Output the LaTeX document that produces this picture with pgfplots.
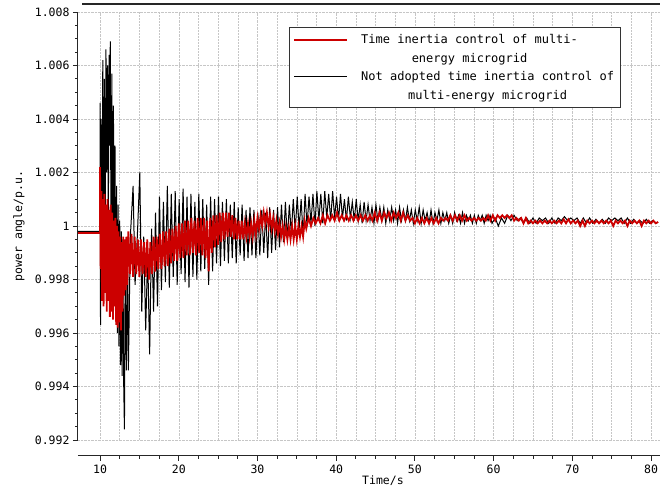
\documentclass[border=0pt]{standalone}
\usepackage{fontspec}
\setmainfont{DejaVu Sans Mono}
\usepackage{pgfplots}
\pgfplotsset{compat=1.18}
\definecolor{myred}{RGB}{204,0,0}
\begin{document}
\begin{tikzpicture}
\begin{axis}[
 scale only axis, width=582pt, height=428pt,
 xmin=7.2, xmax=81.14, ymin=0.992, ymax=1.008,
 axis y line*=left, axis x line*=bottom, axis x line shift=16pt,
 axis line style={-, line width=1pt, black!85},
 xtick={10,20,...,80}, minor x tick num=3,
 ytick={0.992,0.994,0.996,0.998,1,1.002,1.004,1.006,1.008}, minor y tick num=3,
 scaled y ticks=false,
 yticklabel style={/pgf/number format/.cd, fixed, precision=3},
 /pgf/number format/assume math mode=true,
 tick align=outside, major tick length=5pt, minor tick length=3pt,
 tick style={black!85, line width=0.8pt},
 tick label style={font=\fontsize{11.5}{13}\selectfont},
 xmajorgrids, xminorgrids, ymajorgrids,
 grid style={densely dotted, gray!45, line width=0.5pt},
 minor grid style={densely dotted, gray!45, line width=0.5pt},
 xlabel={Time/s}, ylabel={power angle/p.u.},
 label style={font=\fontsize{11.5}{13}\selectfont},
 xlabel style={at={(axis description cs:0.524,-0.096)}, anchor=center},
 ylabel style={at={(axis description cs:-0.1014,0.5)}, anchor=center},
 legend style={at={(0.3625,0.965)}, anchor=north west, draw=black!80, line width=0.8pt, fill=white,
   font=\fontsize{12}{19}\selectfont, cells={align=center}, inner xsep=4pt, inner ysep=5pt, row sep=3pt,
   /tikz/every odd column/.append style={column sep=11pt}},
 legend cell align=left,
 legend image code/.code={\draw[#1] (0pt,9.5pt) -- (53pt,9.5pt);},
]
\coordinate (SW) at (rel axis cs:0,0);
\coordinate (NE) at (rel axis cs:1,1);
\coordinate (NW) at (rel axis cs:0,1);
% red: flat start, drawn under the black line
\addplot[myred, line width=1.8pt, forget plot] coordinates {(7.2,0.99975)(10,0.99975)};
% black: without time inertia control
\addplot[black, line width=1pt, forget plot] coordinates {
(7.2,0.9998)(10,0.9998)(10.02,1.0046)(10.06,0.9963)(10.15,1.0040)(10.25,0.9985)(10.35,1.0062)(10.45,1.0010)(10.55,1.0055)(10.65,0.9992)(10.75,1.0066)(10.85,1.0020)(10.95,1.0060)(11.05,1.0000)(11.15,1.0064)(11.25,1.0030)(11.3,1.0069)(11.4,0.9990)(11.5,1.0057)(11.6,0.9985)(11.7,1.0045)(11.8,0.9978)(11.9,1.0030)(12,0.9968)(12.1,1.0015)(12.2,0.9960)(12.3,1.0008)(12.4,0.9955)(12.5,1.0002)(12.6,0.9948)(12.7,0.9998)(12.8,0.9944)(12.9,0.9995)(13,0.9942)(13.1,0.9924)(13.2,0.9990)(13.35,0.9946)(13.5,0.9992)(13.6,0.9946)(13.85,0.9996)(14.2,1.0015)(14.45,0.9978)(14.75,0.9997)(15.05,1.0020)(15.3,0.9968)(15.55,0.9996)(15.8,0.9961)(16.05,0.9990)(16.3,0.9952)(16.55,0.9999)(16.8,0.9968)(17.05,1.0005)(17.3,0.9970)(17.55,1.0011)(17.8,0.9976)(18.05,1.0009)(18.3,0.9979)(18.55,1.0015)(18.8,0.9977)(19.05,1.0012)(19.3,0.9981)(19.55,1.0013)(19.8,0.9978)(20.05,1.0010)(20.3,0.9982)(20.55,1.0014)(20.8,0.9979)(21.05,1.0011)(21.3,0.9977)(21.55,1.0012)(21.8,0.9981)(22.05,1.0009)(22.3,0.9980)(22.55,1.0012)(22.8,0.9983)(23.05,1.0010)(23.3,0.9984)(23.55,1.0008)(23.8,0.9978)(24.05,1.0011)(24.3,0.9983)(24.55,1.0010)(24.8,0.9986)(25.05,1.0011)(25.3,0.9985)(25.55,1.0009)(25.8,0.9987)(26.05,1.0010)(26.3,0.9986)(26.55,1.0008)(26.8,0.9988)(27.05,1.0009)(27.3,0.9986)(27.55,1.0007)(27.8,0.9989)(28.05,1.0008)(28.3,0.9987)(28.55,1.0006)(28.8,0.9988)(29.05,1.0007)(29.3,0.9989)(29.55,1.0006)(29.8,0.9988)(30.05,1.0005)(30.3,0.9989)(30.55,1.0006)(30.8,0.9990)(31.05,1.0005)(31.3,0.9988)(31.55,1.0007)(31.8,0.9990)(32.05,1.0006)(32.3,0.9991)(32.55,1.0007)(32.8,0.9992)(33.05,1.0008)(33.3,0.9994)(33.55,1.0009)(33.8,0.9995)(34.05,1.0008)(34.3,0.9997)(34.55,1.0010)(34.8,0.9998)(35.05,1.0011)(35.3,0.9999)(35.55,1.0010)(35.8,0.9996)(36.05,1.0012)(36.3,1.0000)(36.55,1.0011)(36.8,1.0001)(37.05,1.0012)(37.3,1.0000)(37.55,1.0013)(37.8,1.0002)(38.05,1.0012)(38.3,1.0001)(38.55,1.0013)(38.8,1.0003)(39.05,1.0012)(39.3,1.0002)(39.55,1.0013)(39.8,1.0003)(40.05,1.0011)(40.3,1.0002)(40.55,1.0012)(40.8,1.0003)(41.05,1.0010)(41.3,1.0002)(41.55,1.0011)(41.8,1.0003)(42.05,1.0009)(42.3,1.0002)(42.55,1.0010)(42.8,1.0002)(43.05,1.0008)(43.3,1.0001)(43.55,1.0009)(43.8,1.0002)(44.05,1.0008)(44.3,1.0002)(44.55,1.0007)(44.8,1.0001)(45.05,1.0008)(45.3,1.0002)(45.55,1.0007)(45.8,1.0002)(46.05,1.0007)(46.3,1.0001)(46.55,1.0006)(46.8,1.0002)(47.05,1.0007)(47.3,1.0002)(47.55,1.0006)(47.8,1.0001)(48.05,1.0007)(48.3,1.0002)(48.55,1.0006)(48.8,1.0002)(49.05,1.0007)(49.3,1.0002)(49.55,1.0006)(49.8,1.0001)(50.05,1.0006)(50.3,1.0002)(50.55,1.0007)(50.8,1.0001)(51.05,1.0006)(51.3,1.0002)(51.55,1.0005)(51.8,1.0001)(52.05,1.0006)(52.3,1.0001)(52.55,1.0005)(52.8,1.0002)(53.05,1.0006)(53.3,1.0001)(53.55,1.0005)(53.8,1.0002)(54.05,1.0005)(54.3,1.0001)(54.55,1.0004)(54.8,1.0001)(55.05,1.0005)(55.3,1.0002)(55.55,1.0004)(55.8,1.0001)(56.05,1.0005)(56.3,1.0001)(56.55,1.0004)(56.8,1.0002)(57.05,1.0004)(57.3,1.0001)(57.55,1.0004)(57.8,1.0001)(58.05,1.0004)(58.3,1.0002)(58.55,1.0004)(58.8,1.0001)(59.05,1.0004)(59.3,1.0002)(59.55,1.0004)(59.8,1.0001)(60.2,1.0003)(60.6,1.0000)(61,1.0003)(61.4,1.0001)(61.8,1.0004)(62.2,1.0002)(62.6,1.0004)(63,1.0002)(63.4,1.0003)(63.8,1.0001)(64.2,1.0003)(64.6,1.0001)(65,1.0003)(65.4,1.0001)(65.8,1.0003)(66.2,1.0002)(66.6,1.0003)(67,1.0001)(67.4,1.0003)(67.8,1.0001)(68.2,1.0003)(68.6,1.0002)(69,1.00035)(69.4,1.0002)(69.8,1.0003)(70.2,1.0002)(70.6,1.0003)(71,1.0001)(71.4,1.0003)(71.8,1.0001)(72.2,1.0003)(72.6,1.0001)(73,1.00025)(73.4,1.0001)(73.8,1.00025)(74.2,1.0001)(74.6,1.0003)(75,1.0002)(75.4,1.0003)(75.8,1.0002)(76.2,1.0003)(76.6,1.0001)(77,1.0003)(77.4,1.0001)(77.8,1.00025)(78.2,1.0001)(78.6,1.0002)(79,1.0001)(79.4,1.00025)(79.8,1.0001)(80.2,1.0002)(80.6,1.0001)(80.9,1.00015)
};
% red: time inertia control
\addplot[myred, line width=1.8pt] coordinates {
(10,0.99975)(10,1.0022)(10.08,0.9984)(10.17,1.0013)(10.25,0.9972)(10.35,1.0010)(10.45,0.9970)(10.55,1.0012)(10.65,0.9975)(10.75,1.0008)(10.85,0.9968)(10.95,1.0010)(11.05,0.9972)(11.15,1.0006)(11.25,0.9966)(11.35,1.0008)(11.45,0.9968)(11.55,1.0005)(11.65,0.9965)(11.75,1.0002)(11.85,0.9970)(11.95,1.0003)(12.05,0.9963)(12.15,1.0000)(12.25,0.9962)(12.35,0.9998)(12.45,0.9964)(12.55,0.9996)(12.65,0.9961)(12.75,0.9994)(12.85,0.9968)(12.95,0.9996)(13.05,0.9974)(13.15,0.9995)(13.25,0.9976)(13.35,0.9996)(13.45,0.9978)
(13.6,0.9998)(13.8,0.9982)(14,0.9997)(14.2,0.9981)(14.4,0.9996)(14.6,0.9982)(14.8,0.9995)(15,0.9981)(15.2,0.9995)(15.4,0.9982)(15.6,0.9994)(15.8,0.9981)(16,0.9995)(16.2,0.9980)(16.4,0.9994)(16.6,0.9982)(16.8,0.9996)(17,0.9983)(17.2,0.9996)(17.4,0.9984)(17.6,0.9997)(17.8,0.9984)(18,0.9998)(18.2,0.9985)(18.4,0.9998)(18.6,0.9985)(18.8,0.9999)(19,0.9986)(19.2,0.9999)(19.4,0.9987)(19.6,1.0000)(19.8,0.9987)(20,1.0001)(20.2,0.9988)(20.4,1.0001)(20.6,0.9988)(20.8,1.0002)(21,0.9989)(21.2,1.0002)(21.4,0.9989)(21.6,1.0003)(21.8,0.9990)(22,1.0002)(22.2,0.9989)(22.4,1.0003)(22.6,0.9990)(22.8,1.0003)(23,0.9989)(23.2,1.0003)(23.4,0.9988)(23.6,1.0002)(23.8,0.9983)(24,1.0003)(24.2,0.9990)(24.4,1.0004)(24.6,0.9992)(24.8,1.0004)(25,0.9993)(25.2,1.0005)(25.4,0.9994)(25.6,1.0005)(25.8,0.9995)(26,1.0005)(26.2,0.9996)(26.4,1.0005)(26.6,0.9996)(26.8,1.0004)(27,0.9995)(27.2,1.0003)(27.4,0.9995)(27.6,1.0002)(27.8,0.9995)(28,1.0002)(28.2,0.9995)(28.4,1.0001)(28.6,0.9996)(28.8,1.0001)(29,0.9996)(29.2,1.0001)(29.4,0.9996)(29.6,1.0002)(29.8,0.9997)(30,1.0003)(30.2,0.9999)(30.4,1.0004)(30.6,1.0000)(30.8,1.0005)(31,1.0001)(31.2,1.0005)(31.4,1.0000)(31.6,1.0004)(31.8,0.9999)(32,1.0003)(32.2,0.9998)(32.4,1.0002)(32.6,0.9997)(32.8,1.0001)(33,0.9996)(33.2,1.0000)(33.4,0.9995)(33.6,0.99995)(33.8,0.9995)(34,0.99995)(34.2,0.9995)(34.4,1.0000)(34.6,0.9995)(34.8,1.0000)(35,0.9995)(35.2,1.0000)(35.4,0.9996)(35.6,1.0000)(35.8,0.9996)(36,1.0002)(36.2,0.9999)
(36.5,1.0003)(36.8,1.0000)(37.1,1.0003)(37.4,1.0001)(37.7,1.0003)(38,1.0001)(38.3,1.0004)(38.6,1.0001)(38.9,1.0004)(39.2,1.0002)(39.5,1.0004)(39.8,1.0002)(40.1,1.0005)(40.4,1.0002)(40.7,1.0004)(41,1.0002)(41.3,1.0004)(41.6,1.0002)(41.9,1.0004)(42.2,1.0002)(42.5,1.0004)(42.8,1.0002)(43.1,1.0004)(43.4,1.0002)(43.7,1.0004)(44,1.0002)(44.3,1.0004)(44.6,1.0002)(44.9,1.0005)(45.2,1.0002)(45.5,1.0005)(45.8,1.0002)(46.1,1.0005)(46.4,1.0003)(46.7,1.0005)(47,1.0002)(47.3,1.0005)(47.6,1.0003)(47.9,1.0005)(48.2,1.0002)(48.5,1.0005)(48.8,1.0002)(49.1,1.0004)(49.4,1.0002)(49.7,1.0003)(50,1.0001)(50.3,1.0003)(50.6,1.0001)(50.9,1.0003)(51.2,1.0001)(51.5,1.0003)(51.8,1.0001)(52.1,1.0003)(52.4,1.0001)(52.7,1.0003)(53,1.0001)(53.3,1.0003)(53.6,1.0002)(53.9,1.0003)(54.2,1.0002)(54.5,1.0004)(54.8,1.0002)(55.1,1.0004)(55.4,1.0002)(55.7,1.0004)(56,1.0002)(56.3,1.0004)(56.6,1.0002)(56.9,1.0003)(57.2,1.0002)(57.5,1.0003)(57.8,1.0002)(58.1,1.0003)(58.4,1.0002)(58.7,1.0003)(59,1.0002)(59.3,1.0004)(59.6,1.0002)(59.9,1.0004)(60.2,1.0002)(60.5,1.0004)(60.8,1.0003)(61.1,1.0004)(61.4,1.0003)(61.7,1.0004)(62,1.0003)(62.3,1.0004)(62.6,1.0002)(62.9,1.0003)(63.2,1.0002)(63.5,1.0003)(63.8,1.0001)(64.1,1.0003)(64.4,1.0001)(64.7,1.0002)(65,1.0001)(65.3,1.0002)(65.6,1.0001)(65.9,1.0002)(66.2,1.0001)(66.5,1.0002)(66.8,1.0001)(67.1,1.0002)(67.4,1.0001)(67.7,1.0002)(68,1.0001)(68.3,1.0002)(68.6,1.0001)(68.9,1.00025)(69.2,1.0001)(69.5,1.00025)(69.8,1.0001)(70.1,1.0002)(70.4,1.0001)(70.7,1.0002)(71,1.0000)(71.3,1.0002)(71.6,1.0000)(71.9,1.0002)(72.2,1.0001)(72.5,1.0002)(72.8,1.0001)(73.1,1.0002)(73.4,1.0001)(73.7,1.0002)(74,1.0001)(74.3,1.0002)(74.6,1.0001)(74.9,1.0002)(75.2,1.0000)(75.5,1.0002)(75.8,1.0001)(76.1,1.0002)(76.4,1.0001)(76.7,1.0002)(77,1.0000)(77.3,1.0002)(77.6,1.0001)(77.9,1.0002)(78.2,1.0001)(78.5,1.0002)(78.8,1.0000)(79.1,1.0002)(79.4,1.0001)(79.7,1.0002)(80,1.0001)(80.3,1.0002)(80.6,1.0001)(80.9,1.00015)
};
\addlegendentry{Time inertia control of multi-\\energy microgrid}
\addlegendimage{black, line width=1pt}
\addlegendentry{Not adopted time inertia control of\\multi-energy microgrid}
\end{axis}
\draw[line width=1.3pt, black!85] ([shift={(4pt,8pt)}]NW) -- ([yshift=8pt]NE);
\pgfresetboundingbox
\path[use as bounding box] ([shift={(-78pt,-49pt)}]SW) rectangle ([shift={(12pt,12pt)}]NE);
\end{tikzpicture}
\end{document}
